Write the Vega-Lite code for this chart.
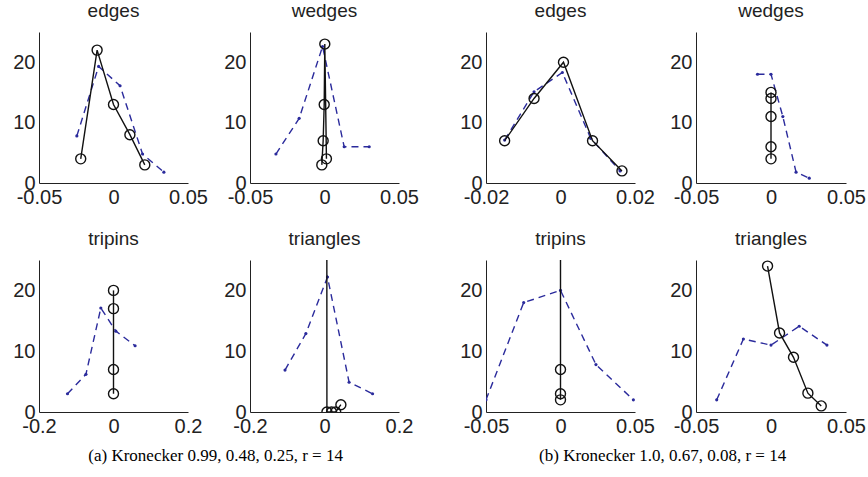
{
  "$schema": "https://vega.github.io/schema/vega-lite/v6.json",
  "background": "white",
  "padding": {"left": 12, "top": 2, "right": 5, "bottom": 5},
  "data": {"values": [
    {"p": "a-edges", "s": "model", "i": 1, "x": -0.022, "y": 4},
    {"p": "a-edges", "s": "model", "i": 2, "x": -0.011, "y": 22},
    {"p": "a-edges", "s": "model", "i": 3, "x": 0.0, "y": 13},
    {"p": "a-edges", "s": "model", "i": 4, "x": 0.011, "y": 8},
    {"p": "a-edges", "s": "model", "i": 5, "x": 0.021, "y": 3},
    {"p": "a-edges", "s": "real", "i": 1, "x": -0.0246, "y": 7.8},
    {"p": "a-edges", "s": "real", "i": 2, "x": -0.010, "y": 19.3},
    {"p": "a-edges", "s": "real", "i": 3, "x": 0.0044, "y": 16.1},
    {"p": "a-edges", "s": "real", "i": 4, "x": 0.0195, "y": 4.8},
    {"p": "a-edges", "s": "real", "i": 5, "x": 0.0338, "y": 1.8},
    {"p": "a-wedges", "s": "model", "i": 1, "x": -0.0018, "y": 3},
    {"p": "a-wedges", "s": "model", "i": 2, "x": -0.0009, "y": 7},
    {"p": "a-wedges", "s": "model", "i": 3, "x": -0.0002, "y": 13},
    {"p": "a-wedges", "s": "model", "i": 4, "x": 0.0002, "y": 23},
    {"p": "a-wedges", "s": "model", "i": 5, "x": 0.0013, "y": 4},
    {"p": "a-wedges", "s": "real", "i": 1, "x": -0.0326, "y": 4.8},
    {"p": "a-wedges", "s": "real", "i": 2, "x": -0.017, "y": 10.7},
    {"p": "a-wedges", "s": "real", "i": 3, "x": -0.0013, "y": 22.6},
    {"p": "a-wedges", "s": "real", "i": 4, "x": 0.0132, "y": 6},
    {"p": "a-wedges", "s": "real", "i": 5, "x": 0.030, "y": 6},
    {"p": "b-edges", "s": "model", "i": 1, "x": -0.015, "y": 7},
    {"p": "b-edges", "s": "model", "i": 2, "x": -0.0071, "y": 14},
    {"p": "b-edges", "s": "model", "i": 3, "x": 0.0008, "y": 20},
    {"p": "b-edges", "s": "model", "i": 4, "x": 0.0086, "y": 7},
    {"p": "b-edges", "s": "model", "i": 5, "x": 0.0165, "y": 2},
    {"p": "b-edges", "s": "real", "i": 1, "x": -0.015, "y": 7.1},
    {"p": "b-edges", "s": "real", "i": 2, "x": -0.0071, "y": 15.1},
    {"p": "b-edges", "s": "real", "i": 3, "x": 0.0005, "y": 18.3},
    {"p": "b-edges", "s": "real", "i": 4, "x": 0.0081, "y": 7.4},
    {"p": "b-edges", "s": "real", "i": 5, "x": 0.016, "y": 2.0},
    {"p": "b-wedges", "s": "model", "i": 1, "x": 0, "y": 4},
    {"p": "b-wedges", "s": "model", "i": 2, "x": 0, "y": 6},
    {"p": "b-wedges", "s": "model", "i": 3, "x": 0, "y": 11},
    {"p": "b-wedges", "s": "model", "i": 4, "x": 0, "y": 14},
    {"p": "b-wedges", "s": "model", "i": 5, "x": 0, "y": 15},
    {"p": "b-wedges", "s": "real", "i": 1, "x": -0.009, "y": 18},
    {"p": "b-wedges", "s": "real", "i": 2, "x": 0, "y": 18},
    {"p": "b-wedges", "s": "real", "i": 3, "x": 0.0079, "y": 11},
    {"p": "b-wedges", "s": "real", "i": 4, "x": 0.0167, "y": 1.8},
    {"p": "b-wedges", "s": "real", "i": 5, "x": 0.0255, "y": 0.8},
    {"p": "a-tripins", "s": "model", "i": 1, "x": 0, "y": 3},
    {"p": "a-tripins", "s": "model", "i": 2, "x": 0, "y": 7},
    {"p": "a-tripins", "s": "model", "i": 3, "x": 0, "y": 17},
    {"p": "a-tripins", "s": "model", "i": 4, "x": 0, "y": 20},
    {"p": "a-tripins", "s": "real", "i": 1, "x": -0.1235, "y": 3},
    {"p": "a-tripins", "s": "real", "i": 2, "x": -0.074, "y": 6.2},
    {"p": "a-tripins", "s": "real", "i": 3, "x": -0.034, "y": 17.1},
    {"p": "a-tripins", "s": "real", "i": 4, "x": 0.0063, "y": 13.3},
    {"p": "a-tripins", "s": "real", "i": 5, "x": 0.058, "y": 10.9},
    {"p": "a-triangles", "s": "model", "i": 1, "x": 0.0055, "y": 120},
    {"p": "a-triangles", "s": "model", "i": 2, "x": 0.0065, "y": 0},
    {"p": "a-triangles", "s": "model", "i": 3, "x": 0.019, "y": 0},
    {"p": "a-triangles", "s": "model", "i": 4, "x": 0.030, "y": 0},
    {"p": "a-triangles", "s": "model", "i": 5, "x": 0.044, "y": 1.2},
    {"p": "a-triangles", "s": "real", "i": 1, "x": -0.106, "y": 6.9},
    {"p": "a-triangles", "s": "real", "i": 2, "x": -0.050, "y": 12.9},
    {"p": "a-triangles", "s": "real", "i": 3, "x": 0.008, "y": 22.2},
    {"p": "a-triangles", "s": "real", "i": 4, "x": 0.066, "y": 4.9},
    {"p": "a-triangles", "s": "real", "i": 5, "x": 0.129, "y": 3.0},
    {"p": "b-tripins", "s": "model", "i": 1, "x": 0, "y": 2},
    {"p": "b-tripins", "s": "model", "i": 2, "x": 0, "y": 3},
    {"p": "b-tripins", "s": "model", "i": 3, "x": 0, "y": 7},
    {"p": "b-tripins", "s": "model", "i": 4, "x": 0, "y": 200},
    {"p": "b-tripins", "s": "real", "i": 1, "x": -0.05, "y": 2},
    {"p": "b-tripins", "s": "real", "i": 2, "x": -0.0247, "y": 18},
    {"p": "b-tripins", "s": "real", "i": 3, "x": 0, "y": 20},
    {"p": "b-tripins", "s": "real", "i": 4, "x": 0.0238, "y": 7.8},
    {"p": "b-tripins", "s": "real", "i": 5, "x": 0.0489, "y": 2},
    {"p": "b-triangles", "s": "model", "i": 1, "x": -0.0023, "y": 24},
    {"p": "b-triangles", "s": "model", "i": 2, "x": 0.0057, "y": 13},
    {"p": "b-triangles", "s": "model", "i": 3, "x": 0.015, "y": 9},
    {"p": "b-triangles", "s": "model", "i": 4, "x": 0.0246, "y": 3.1},
    {"p": "b-triangles", "s": "model", "i": 5, "x": 0.0335, "y": 1},
    {"p": "b-triangles", "s": "real", "i": 1, "x": -0.0362, "y": 2},
    {"p": "b-triangles", "s": "real", "i": 2, "x": -0.0184, "y": 12},
    {"p": "b-triangles", "s": "real", "i": 3, "x": 0, "y": 11},
    {"p": "b-triangles", "s": "real", "i": 4, "x": 0.0188, "y": 14.1},
    {"p": "b-triangles", "s": "real", "i": 5, "x": 0.0373, "y": 11}
  ]},
  "spacing": 40,
  "hconcat": [
    {
      "title": {"text": "(a) Kronecker 0.99, 0.48, 0.25, r = 14", "orient": "bottom", "font": "Liberation Serif", "fontSize": 17, "fontWeight": "normal", "color": "black", "offset": 12, "anchor": "middle", "baseline": "top"},
      "spacing": 23,
      "vconcat": [
        {"bounds": "flush", "spacing": 62, "hconcat": [
          {"title": "edges", "width": 149, "height": 151,
           "transform": [{"filter": "datum.p == 'a-edges'"}],
           "encoding": {
             "x": {"field": "x", "type": "quantitative", "title": null, "scale": {"domain": [-0.05, 0.05], "nice": false, "zero": false}, "axis": {"values": [-0.05, 0, 0.05]}},
             "y": {"field": "y", "type": "quantitative", "title": null, "scale": {"domain": [0, 25], "nice": false}, "axis": {"values": [0, 10, 20]}},
             "order": {"field": "i", "type": "quantitative"}
           },
           "layer": [
             {"transform": [{"filter": "datum.s == 'real'"}], "mark": {"type": "line", "color": "#2b2b9c", "strokeWidth": 1.4, "strokeDash": [7, 5], "clip": true}},
             {"transform": [{"filter": "datum.s == 'real'"}], "mark": {"type": "point", "filled": true, "shape": "circle", "size": 10, "color": "#2b2b9c", "opacity": 1, "clip": true}},
             {"transform": [{"filter": "datum.s == 'model'"}], "mark": {"type": "line", "color": "#111", "strokeWidth": 1.4, "clip": true}},
             {"transform": [{"filter": "datum.s == 'model'"}], "mark": {"type": "point", "shape": "circle", "size": 100, "color": "#111", "strokeWidth": 1.4, "opacity": 1, "clip": true}}
           ]},
          {"title": "wedges", "width": 149, "height": 151,
           "transform": [{"filter": "datum.p == 'a-wedges'"}],
           "encoding": {
             "x": {"field": "x", "type": "quantitative", "title": null, "scale": {"domain": [-0.05, 0.05], "nice": false, "zero": false}, "axis": {"values": [-0.05, 0, 0.05]}},
             "y": {"field": "y", "type": "quantitative", "title": null, "scale": {"domain": [0, 25], "nice": false}, "axis": {"values": [0, 10, 20]}},
             "order": {"field": "i", "type": "quantitative"}
           },
           "layer": [
             {"transform": [{"filter": "datum.s == 'real'"}], "mark": {"type": "line", "color": "#2b2b9c", "strokeWidth": 1.4, "strokeDash": [7, 5], "clip": true}},
             {"transform": [{"filter": "datum.s == 'real'"}], "mark": {"type": "point", "filled": true, "shape": "circle", "size": 10, "color": "#2b2b9c", "opacity": 1, "clip": true}},
             {"transform": [{"filter": "datum.s == 'model'"}], "mark": {"type": "line", "color": "#111", "strokeWidth": 1.4, "clip": true}},
             {"transform": [{"filter": "datum.s == 'model'"}], "mark": {"type": "point", "shape": "circle", "size": 100, "color": "#111", "strokeWidth": 1.4, "opacity": 1, "clip": true}}
           ]}
        ]},
        {"bounds": "flush", "spacing": 62, "hconcat": [
          {"title": "tripins", "width": 149, "height": 152,
           "transform": [{"filter": "datum.p == 'a-tripins'"}],
           "encoding": {
             "x": {"field": "x", "type": "quantitative", "title": null, "scale": {"domain": [-0.2, 0.2], "nice": false, "zero": false}, "axis": {"values": [-0.2, 0, 0.2]}},
             "y": {"field": "y", "type": "quantitative", "title": null, "scale": {"domain": [0, 25], "nice": false}, "axis": {"values": [0, 10, 20]}},
             "order": {"field": "i", "type": "quantitative"}
           },
           "layer": [
             {"transform": [{"filter": "datum.s == 'real'"}], "mark": {"type": "line", "color": "#2b2b9c", "strokeWidth": 1.4, "strokeDash": [7, 5], "clip": true}},
             {"transform": [{"filter": "datum.s == 'real'"}], "mark": {"type": "point", "filled": true, "shape": "circle", "size": 10, "color": "#2b2b9c", "opacity": 1, "clip": true}},
             {"transform": [{"filter": "datum.s == 'model'"}], "mark": {"type": "line", "color": "#111", "strokeWidth": 1.4, "clip": true}},
             {"transform": [{"filter": "datum.s == 'model'"}], "mark": {"type": "point", "shape": "circle", "size": 100, "color": "#111", "strokeWidth": 1.4, "opacity": 1, "clip": true}}
           ]},
          {"title": "triangles", "width": 149, "height": 152,
           "transform": [{"filter": "datum.p == 'a-triangles'"}],
           "encoding": {
             "x": {"field": "x", "type": "quantitative", "title": null, "scale": {"domain": [-0.2, 0.2], "nice": false, "zero": false}, "axis": {"values": [-0.2, 0, 0.2]}},
             "y": {"field": "y", "type": "quantitative", "title": null, "scale": {"domain": [0, 25], "nice": false}, "axis": {"values": [0, 10, 20]}},
             "order": {"field": "i", "type": "quantitative"}
           },
           "layer": [
             {"transform": [{"filter": "datum.s == 'real'"}], "mark": {"type": "line", "color": "#2b2b9c", "strokeWidth": 1.4, "strokeDash": [7, 5], "clip": true}},
             {"transform": [{"filter": "datum.s == 'real'"}], "mark": {"type": "point", "filled": true, "shape": "circle", "size": 10, "color": "#2b2b9c", "opacity": 1, "clip": true}},
             {"transform": [{"filter": "datum.s == 'model'"}], "mark": {"type": "line", "color": "#111", "strokeWidth": 1.4, "clip": true}},
             {"transform": [{"filter": "datum.s == 'model'"}], "mark": {"type": "point", "shape": "circle", "size": 100, "color": "#111", "strokeWidth": 1.4, "opacity": 1, "clip": true}}
           ]}
        ]}
      ]
    },
    {
      "title": {"text": "(b) Kronecker 1.0, 0.67, 0.08, r = 14", "orient": "bottom", "font": "Liberation Serif", "fontSize": 17, "fontWeight": "normal", "color": "black", "offset": 12, "anchor": "middle", "baseline": "top"},
      "spacing": 23,
      "vconcat": [
        {"bounds": "flush", "spacing": 61, "hconcat": [
          {"title": "edges", "width": 149, "height": 151,
           "transform": [{"filter": "datum.p == 'b-edges'"}],
           "encoding": {
             "x": {"field": "x", "type": "quantitative", "title": null, "scale": {"domain": [-0.02, 0.02], "nice": false, "zero": false}, "axis": {"values": [-0.02, 0, 0.02]}},
             "y": {"field": "y", "type": "quantitative", "title": null, "scale": {"domain": [0, 25], "nice": false}, "axis": {"values": [0, 10, 20]}},
             "order": {"field": "i", "type": "quantitative"}
           },
           "layer": [
             {"transform": [{"filter": "datum.s == 'real'"}], "mark": {"type": "line", "color": "#2b2b9c", "strokeWidth": 1.4, "strokeDash": [7, 5], "clip": true}},
             {"transform": [{"filter": "datum.s == 'real'"}], "mark": {"type": "point", "filled": true, "shape": "circle", "size": 10, "color": "#2b2b9c", "opacity": 1, "clip": true}},
             {"transform": [{"filter": "datum.s == 'model'"}], "mark": {"type": "line", "color": "#111", "strokeWidth": 1.4, "clip": true}},
             {"transform": [{"filter": "datum.s == 'model'"}], "mark": {"type": "point", "shape": "circle", "size": 100, "color": "#111", "strokeWidth": 1.4, "opacity": 1, "clip": true}}
           ]},
          {"title": "wedges", "width": 150, "height": 151,
           "transform": [{"filter": "datum.p == 'b-wedges'"}],
           "encoding": {
             "x": {"field": "x", "type": "quantitative", "title": null, "scale": {"domain": [-0.05, 0.05], "nice": false, "zero": false}, "axis": {"values": [-0.05, 0, 0.05]}},
             "y": {"field": "y", "type": "quantitative", "title": null, "scale": {"domain": [0, 25], "nice": false}, "axis": {"values": [0, 10, 20]}},
             "order": {"field": "i", "type": "quantitative"}
           },
           "layer": [
             {"transform": [{"filter": "datum.s == 'real'"}], "mark": {"type": "line", "color": "#2b2b9c", "strokeWidth": 1.4, "strokeDash": [7, 5], "clip": true}},
             {"transform": [{"filter": "datum.s == 'real'"}], "mark": {"type": "point", "filled": true, "shape": "circle", "size": 10, "color": "#2b2b9c", "opacity": 1, "clip": true}},
             {"transform": [{"filter": "datum.s == 'model'"}], "mark": {"type": "line", "color": "#111", "strokeWidth": 1.4, "clip": true}},
             {"transform": [{"filter": "datum.s == 'model'"}], "mark": {"type": "point", "shape": "circle", "size": 100, "color": "#111", "strokeWidth": 1.4, "opacity": 1, "clip": true}}
           ]}
        ]},
        {"bounds": "flush", "spacing": 61, "hconcat": [
          {"title": "tripins", "width": 149, "height": 152,
           "transform": [{"filter": "datum.p == 'b-tripins'"}],
           "encoding": {
             "x": {"field": "x", "type": "quantitative", "title": null, "scale": {"domain": [-0.05, 0.05], "nice": false, "zero": false}, "axis": {"values": [-0.05, 0, 0.05]}},
             "y": {"field": "y", "type": "quantitative", "title": null, "scale": {"domain": [0, 25], "nice": false}, "axis": {"values": [0, 10, 20]}},
             "order": {"field": "i", "type": "quantitative"}
           },
           "layer": [
             {"transform": [{"filter": "datum.s == 'real'"}], "mark": {"type": "line", "color": "#2b2b9c", "strokeWidth": 1.4, "strokeDash": [7, 5], "clip": true}},
             {"transform": [{"filter": "datum.s == 'real'"}], "mark": {"type": "point", "filled": true, "shape": "circle", "size": 10, "color": "#2b2b9c", "opacity": 1, "clip": true}},
             {"transform": [{"filter": "datum.s == 'model'"}], "mark": {"type": "line", "color": "#111", "strokeWidth": 1.4, "clip": true}},
             {"transform": [{"filter": "datum.s == 'model'"}], "mark": {"type": "point", "shape": "circle", "size": 100, "color": "#111", "strokeWidth": 1.4, "opacity": 1, "clip": true}}
           ]},
          {"title": "triangles", "width": 150, "height": 152,
           "transform": [{"filter": "datum.p == 'b-triangles'"}],
           "encoding": {
             "x": {"field": "x", "type": "quantitative", "title": null, "scale": {"domain": [-0.05, 0.05], "nice": false, "zero": false}, "axis": {"values": [-0.05, 0, 0.05]}},
             "y": {"field": "y", "type": "quantitative", "title": null, "scale": {"domain": [0, 25], "nice": false}, "axis": {"values": [0, 10, 20]}},
             "order": {"field": "i", "type": "quantitative"}
           },
           "layer": [
             {"transform": [{"filter": "datum.s == 'real'"}], "mark": {"type": "line", "color": "#2b2b9c", "strokeWidth": 1.4, "strokeDash": [7, 5], "clip": true}},
             {"transform": [{"filter": "datum.s == 'real'"}], "mark": {"type": "point", "filled": true, "shape": "circle", "size": 10, "color": "#2b2b9c", "opacity": 1, "clip": true}},
             {"transform": [{"filter": "datum.s == 'model'"}], "mark": {"type": "line", "color": "#111", "strokeWidth": 1.4, "clip": true}},
             {"transform": [{"filter": "datum.s == 'model'"}], "mark": {"type": "point", "shape": "circle", "size": 100, "color": "#111", "strokeWidth": 1.4, "opacity": 1, "clip": true}}
           ]}
        ]}
      ]
    }
  ],
  "config": {
    "view": {"stroke": null},
    "axis": {"grid": false, "ticks": false, "domainColor": "#222", "domainWidth": 1, "labelColor": "#222", "labelFont": "Liberation Sans", "labelFontSize": 20, "labelPadding": 4, "labelOverlap": false, "labelFlush": false,
             "labelExpr": "datum.value < 0 ? '-' + format(-datum.value, '~g') : format(datum.value, '~g')"},
    "title": {"font": "Liberation Sans", "fontSize": 19, "fontWeight": "normal", "color": "#222", "baseline": "alphabetic", "offset": 11}
  }
}
